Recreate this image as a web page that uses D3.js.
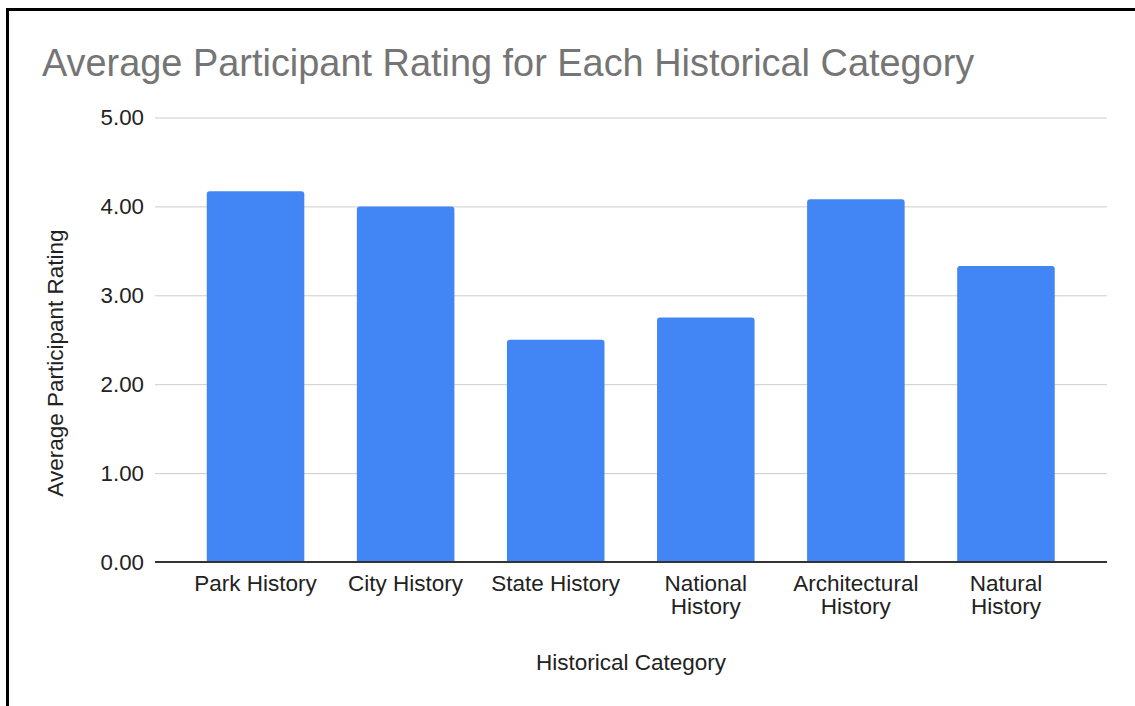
<!DOCTYPE html>
<html>
<head>
<meta charset="utf-8">
<script src="https://cdn.jsdelivr.net/npm/d3@7"></script>
<style>
  body { margin: 0; background: #fff; }
  text { font-family: Arial, "Liberation Sans", sans-serif; }
</style>
</head>
<body>
<script>
// chart data
var categories = [["Park History"], ["City History"], ["State History"],
                  ["National", "History"], ["Architectural", "History"], ["Natural", "History"]];
var ratings = [4.17, 4.00, 2.50, 2.75, 4.08, 3.33];
var yTicks = [0, 1, 2, 3, 4, 5];

var svg = d3.select("body").append("svg")
            .attr("width", 1135)
            .attr("height", 706);

// outer frame (only top and left show in the picture)
svg.append("rect")
   .attr("x", 7.5).attr("y", 9.5)
   .attr("width", 1300).attr("height", 900)
   .attr("fill", "none")
   .attr("stroke", "#000")
   .attr("stroke-width", 3);

var plot = {left: 155, right: 1107, top: 117.5, bottom: 562};

var x = d3.scaleBand()
          .domain(d3.range(categories.length))
          .range([180.5, 1081])
          .paddingInner(0.35)
          .paddingOuter(0.175);

var y = d3.scaleLinear().domain([0, 5]).range([plot.bottom, plot.top]);

// title
svg.append("text")
   .attr("x", 42).attr("y", 76)
   .attr("font-size", 37.9)
   .attr("fill", "#757575")
   .text("Average Participant Rating for Each Historical Category");

// gridlines + y tick labels
var yAxis = d3.axisLeft(y)
              .tickValues(yTicks)
              .tickSize(-(plot.right - plot.left))
              .tickPadding(11)
              .tickFormat(d3.format(".2f"));

var gy = svg.append("g")
            .attr("transform", "translate(" + plot.left + ",0)")
            .call(yAxis);
gy.select(".domain").remove();
gy.selectAll(".tick line").attr("stroke", "#cccccc").attr("stroke-width", 1);
gy.selectAll(".tick text")
  .attr("font-size", 22.3)
  .attr("fill", "#222")
  .attr("font-family", "Arial, 'Liberation Sans', sans-serif");

// bars with slightly rounded tops
var r = 3;
svg.append("g").selectAll("path")
   .data(ratings)
   .enter().append("path")
   .attr("fill", "#4285f4")
   .attr("d", function(d, i) {
     var x0 = x(i), x1 = x(i) + x.bandwidth(), yt = y(d), yb = y(0);
     return "M" + x0 + "," + yb +
            "L" + x0 + "," + (yt + r) +
            "Q" + x0 + "," + yt + " " + (x0 + r) + "," + yt +
            "L" + (x1 - r) + "," + yt +
            "Q" + x1 + "," + yt + " " + x1 + "," + (yt + r) +
            "L" + x1 + "," + yb + "Z";
   });

// baseline
svg.append("line")
   .attr("x1", plot.left).attr("x2", plot.right)
   .attr("y1", y(0)).attr("y2", y(0))
   .attr("stroke", "#333")
   .attr("stroke-width", 2);

// x tick labels (may wrap to two lines)
var xl = svg.append("g").selectAll("text")
            .data(categories)
            .enter().append("text")
            .attr("text-anchor", "middle")
            .attr("font-size", 22.5)
            .attr("fill", "#222")
            .attr("x", function(d, i) { return x(i) + x.bandwidth() / 2; })
            .attr("y", 591);
xl.each(function(lines, i) {
  var t = d3.select(this);
  lines.forEach(function(s, k) {
    t.append("tspan")
     .attr("x", x(i) + x.bandwidth() / 2)
     .attr("dy", k == 0 ? 0 : 23)
     .text(s);
  });
});

// axis titles
svg.append("text")
   .attr("x", 631).attr("y", 670)
   .attr("text-anchor", "middle")
   .attr("font-size", 22.5)
   .attr("fill", "#222")
   .text("Historical Category");

svg.append("text")
   .attr("transform", "translate(63,363) rotate(-90)")
   .attr("text-anchor", "middle")
   .attr("font-size", 22.5)
   .attr("fill", "#222")
   .text("Average Participant Rating");
</script>
</body>
</html>
